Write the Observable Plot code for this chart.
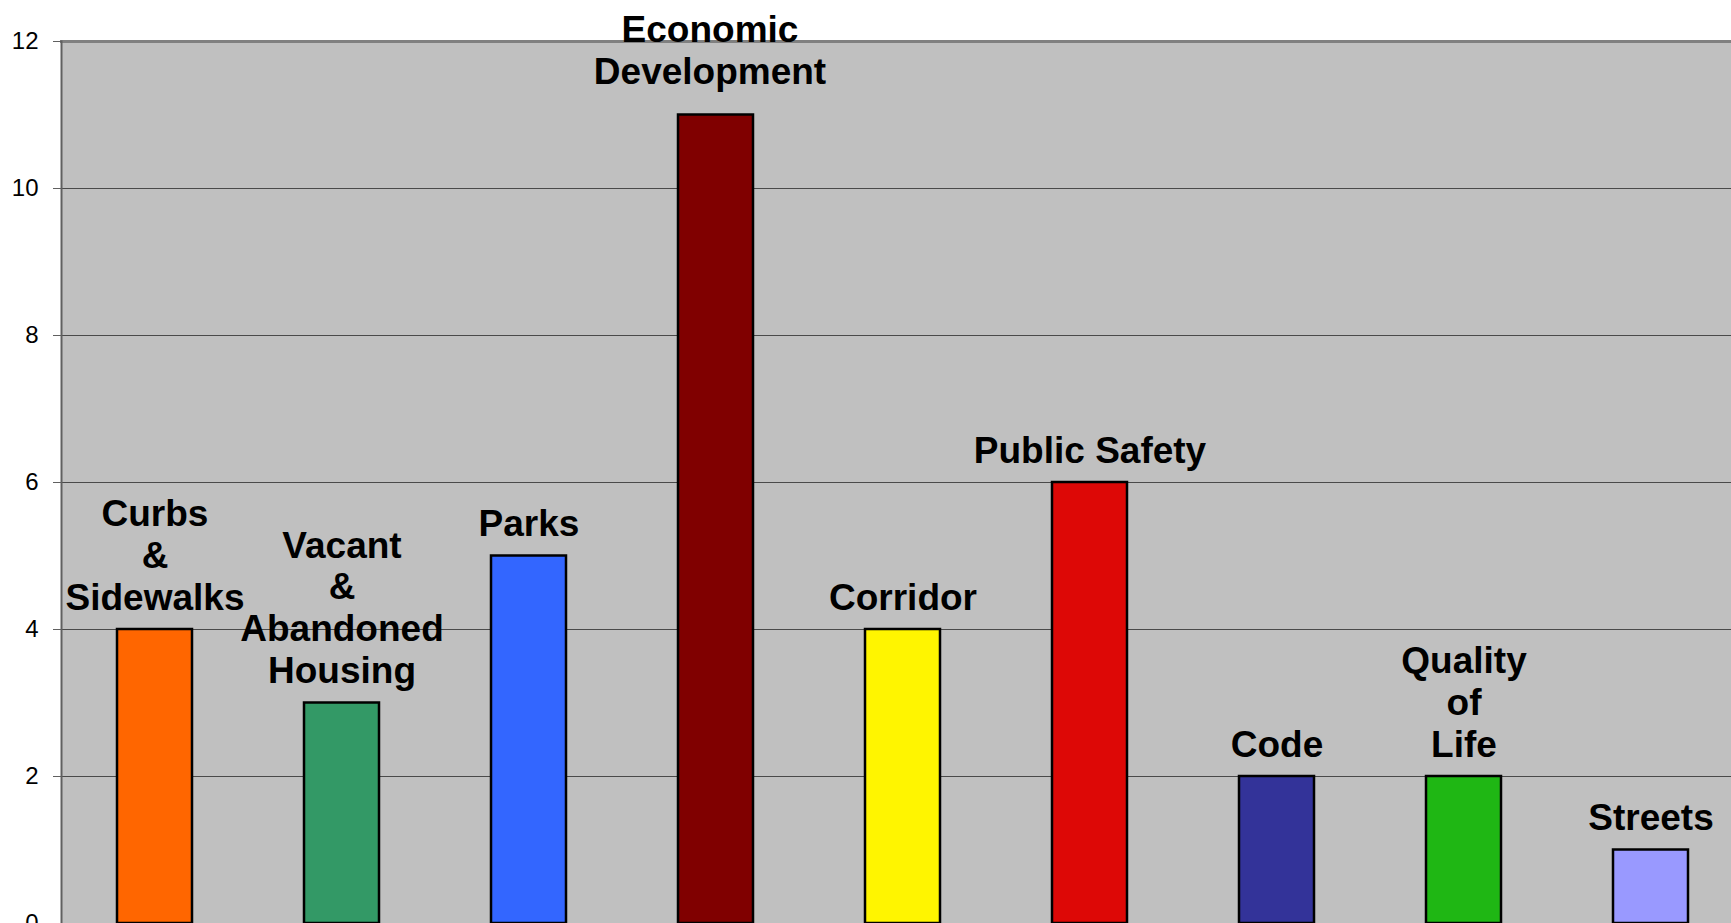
<!DOCTYPE html>
<html>
<head>
<meta charset="utf-8">
<script src="https://cdn.jsdelivr.net/npm/d3@7"></script>
<script src="https://cdn.jsdelivr.net/npm/@observablehq/plot@0.6"></script>
<style>
  html, body { margin: 0; padding: 0; background: #fff; overflow: hidden; }
  #chart svg { display: block; }
</style>
</head>
<body>
<div id="chart"></div>
<script>
const categories = ["Curbs & Sidewalks", "Vacant & Abandoned Housing", "Parks", "Economic Development", "Corridor", "Public Safety", "Code", "Quality of Life", "Streets"];
const labels = ["Curbs\n&\nSidewalks", "Vacant\n&\nAbandoned\nHousing", "Parks", "Economic\nDevelopment", "Corridor", "Public Safety", "Code", "Quality\nof\nLife", "Streets"];
const values = [4, 3, 5, 11, 4, 6, 2, 2, 1];
const palette = ["#FF6600", "#339966", "#3366FF", "#800000", "#FFF500", "#DD0806", "#333399", "#1FB714", "#9999FF"];
const yTicks = [0, 2, 4, 6, 8, 10, 12];
const gridTicks = [2, 4, 6, 8, 10];

const data = categories.map((c, i) => ({category: c, label: labels[i], value: values[i]}));
const textStyle = {x: "category", y: "value", text: "label", lineAnchor: "bottom",
  fontSize: 37, fontWeight: "bold", lineHeight: 1.13, fill: "#000"};

const chart = Plot.plot({
  width: 1731,
  height: 923,
  marginLeft: 61,
  marginRight: 0,
  marginTop: 41,
  marginBottom: 0,
  style: {fontFamily: "'Liberation Sans', Arial, sans-serif", background: "transparent", overflow: "hidden"},
  x: {domain: categories, range: [61, 1744], paddingInner: 0.6, paddingOuter: 0.3, align: 0.5, axis: null},
  y: {domain: [0, 12], axis: null},
  color: {domain: categories, range: palette},
  marks: [
    Plot.frame({fill: "#C0C0C0", stroke: null}),
    Plot.ruleY(gridTicks, {stroke: "#4a4a4a", strokeWidth: 1.2}),
    Plot.barY(data, {x: "category", y: "value", fill: "category", stroke: "#000", strokeWidth: 2.5}),
    Plot.frame({anchor: "top", stroke: "#808080", strokeWidth: 3}),
    Plot.frame({anchor: "left", stroke: "#606060", strokeWidth: 2}),
    Plot.text(data, {...textStyle, filter: d => d.value < 11, dy: -20}),
    Plot.text(data, {...textStyle, filter: d => d.value >= 11, dy: -31, dx: -6}),
    Plot.axisY({ticks: yTicks, tickSize: 8, tickPadding: 15, fontSize: 24, stroke: "#606060", fill: "#000", label: null, tickFormat: d => String(d)})
  ]
});
document.getElementById("chart").appendChild(chart);
</script>
</body>
</html>
